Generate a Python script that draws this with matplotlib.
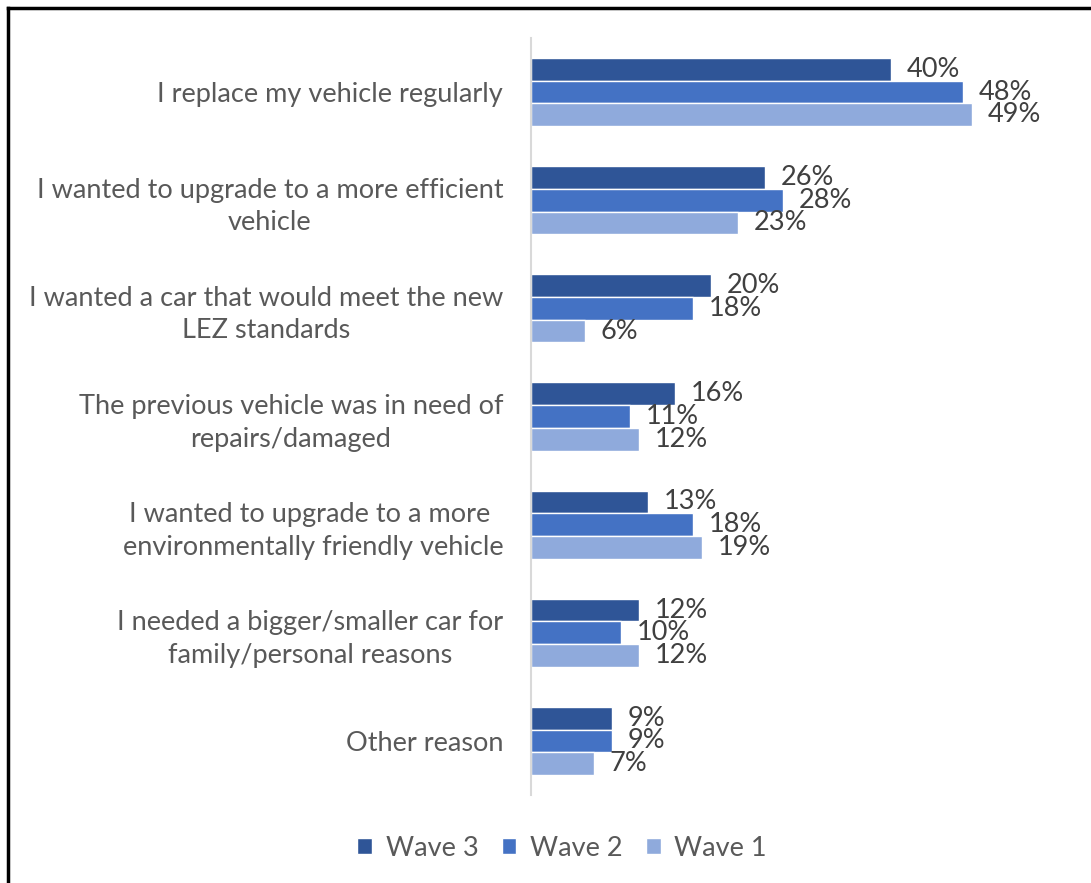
import matplotlib.pyplot as plt
from matplotlib.lines import Line2D
import numpy as np

categories = [
    "I replace my vehicle regularly",
    "I wanted to upgrade to a more efficient\nvehicle",
    "I wanted a car that would meet the new\nLEZ standards",
    "The previous vehicle was in need of\nrepairs/damaged",
    "I wanted to upgrade to a more \nenvironmentally friendly vehicle",
    "I needed a bigger/smaller car for\nfamily/personal reasons",
    "Other reason",
]
wave3 = [40, 26, 20, 16, 13, 12, 9]
wave2 = [48, 28, 18, 11, 18, 10, 9]
wave1 = [49, 23, 6, 12, 19, 12, 7]

series = [("Wave 3", wave3, "#2F5597"),
          ("Wave 2", wave2, "#4472C4"),
          ("Wave 1", wave1, "#8FAADC")]

text_color = "#595959"
plt.rcParams['font.family'] = ['Lato', 'DejaVu Sans']

W, H = 1091, 883
fig = plt.figure(figsize=(W / 100, H / 100), dpi=100)
ax = fig.add_axes([531 / W, (H - 795) / H, 450 / W, 757 / H])

y = np.arange(len(categories))
offsets = [-0.21, 0.0, 0.21]
for (name, vals, color), off in zip(series, offsets):
    bars = ax.barh(y + off, vals, height=0.21, color=color, edgecolor="white",
                   linewidth=1.0, label=name)
    for b, v in zip(bars, vals):
        ax.annotate(f"{v}%", (b.get_width(), b.get_y() + b.get_height() / 2),
                    xytext=(11.5, 0), textcoords="offset points", va="center",
                    ha="left", fontsize=19.5, color="#404040")

ax.set_xlim(0, 50)
ax.set_ylim(len(categories) - 0.5, -0.5)
ax.set_yticks(y)
ax.set_yticklabels(categories, fontsize=19.5, color=text_color)
plt.setp(ax.get_yticklabels(), multialignment="center", linespacing=1.38)
ax.tick_params(axis="y", length=0, pad=20)
ax.set_xticks([])
for s in ["top", "right", "bottom"]:
    ax.spines[s].set_visible(False)
ax.spines["left"].set_color("#D9D9D9")
ax.spines["left"].set_linewidth(1.5)

handles, labels = ax.get_legend_handles_labels()
fig.legend(handles, labels, loc="center", bbox_to_anchor=(562 / W, (H - 848) / H),
           ncol=3, frameon=False, fontsize=19.5, labelcolor=text_color,
           handlelength=0.55, handleheight=0.55, handletextpad=0.5, columnspacing=0.85)

# outer frame (top and left edges visible)
fig.add_artist(Line2D([7.5 / W, 1], [(H - 7.5) / H, (H - 7.5) / H], color="black", lw=2.5))
fig.add_artist(Line2D([7.5 / W, 7.5 / W], [0, (H - 7.5) / H], color="black", lw=2.5))

fig.savefig("out.png", dpi=100, facecolor="white")
